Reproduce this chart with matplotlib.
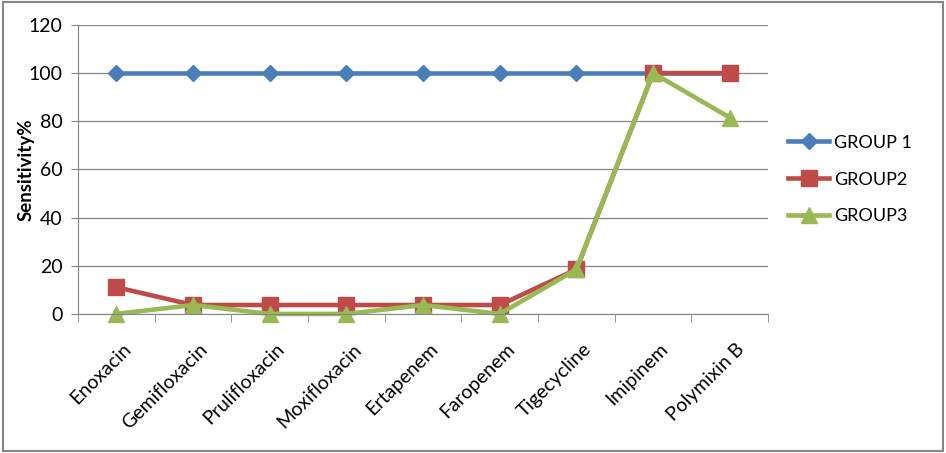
import numpy as np
import matplotlib.pyplot as plt
from matplotlib.patches import Rectangle
from matplotlib.transforms import ScaledTranslation

# Data
drugs = ['Enoxacin', 'Gemifloxacin', 'Prulifloxacin', 'Moxifloxacin', 'Ertapenem',
         'Faropenem', 'Tigecycline', 'Imipinem', 'Polymixin B']
group1 = [100, 100, 100, 100, 100, 100, 100, 100, 100]
group2 = [11.1, 3.7, 3.7, 3.7, 3.7, 3.7, 18.5, 100, 100]
group3 = [0, 3.7, 0, 0, 3.7, 0, 18.5, 100, 81.5]
labels = ['GROUP 1', 'GROUP2', 'GROUP3']

plt.rcParams['font.family'] = ['Lato', 'DejaVu Sans']

fig = plt.figure(figsize=(9.46, 4.53), dpi=100)
ax = fig.add_axes([0.0825, 0.307, 0.7295, 0.638])

x = np.arange(len(drugs))
ax.plot(x, group1, color='#4a7ebb', lw=3.3, marker='D', ms=8, label=labels[0], clip_on=False)
ax.plot(x, group2, color='#be4b48', lw=3.3, marker='s', ms=11, label=labels[1], clip_on=False)
ax.plot(x, group3, color='#98b954', lw=3.3, marker='^', ms=12, label=labels[2], clip_on=False)

ax.set_xlim(-0.5, len(drugs) - 0.5)
ax.set_ylim(0, 120)
ax.set_yticks(range(0, 121, 20))
ax.grid(axis='y', color='#868686', lw=0.9)
ax.set_axisbelow(True)
for s in ['top', 'right']:
    ax.spines[s].set_visible(False)
ax.spines['left'].set_color('#868686')
ax.spines['bottom'].set_color('#868686')
ax.set_xticks(x)
ax.set_xticklabels(drugs, rotation=45, ha='right', rotation_mode='anchor', fontsize=14)
ax.tick_params(axis='x', length=0, pad=19)
shift = ScaledTranslation(0.06, 0, fig.dpi_scale_trans)
for lab in ax.get_xticklabels():
    lab.set_transform(lab.get_transform() + shift)
ax.set_xticks(np.arange(-0.5, len(drugs), 1), minor=True)
ax.tick_params(axis='x', which='minor', length=6, color='#868686')
ax.tick_params(axis='y', labelsize=14, length=5, color='#868686', pad=6)
ax.set_ylabel('Sensitivity%', fontsize=13.5, fontweight='bold', labelpad=-4)

ax.legend(loc='center left', bbox_to_anchor=(1.018, 0.465), frameon=False,
          fontsize=13, handlelength=2.3, handletextpad=0.25, labelspacing=1.15,
          borderaxespad=0)

fig.patches.append(Rectangle((0.003, 0.004), 0.994, 0.992, transform=fig.transFigure,
                             fill=False, edgecolor='#868686', lw=1.5))

fig.savefig('out.png', dpi=100)
